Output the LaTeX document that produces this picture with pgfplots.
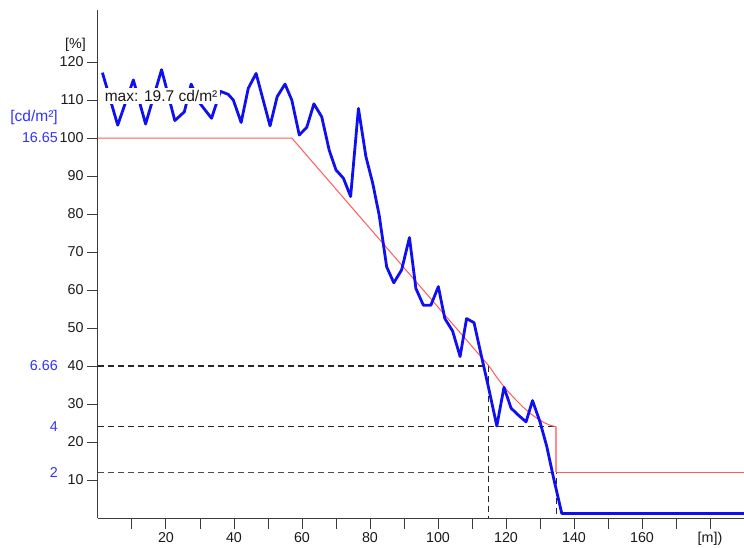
\documentclass[border=0pt]{standalone}
\usepackage{fontspec}
\setmainfont{Liberation Sans}
\usepackage{pgfplots}
\pgfplotsset{compat=1.18}
\definecolor{lineblue}{RGB}{15,15,240}
\definecolor{labelblue}{RGB}{50,50,255}
\definecolor{redline}{RGB}{255,90,90}
\definecolor{axisgray}{RGB}{60,60,60}
\begin{document}
\begin{tikzpicture}
\begin{axis}[name=ax, scale only axis, width=646pt, height=508pt,
  xmin=0, xmax=190, ymin=0, ymax=133.7,
  axis x line*=bottom, axis y line*=left,
  axis line style={axisgray, line width=1pt, -},
  xtick={20,40,...,180}, xticklabels={20,40,60,80,100,120,140,160,{[m])}},
  minor xtick={10,30,...,170},
  ytick={10,20,...,120},
  tick style={axisgray, line width=1pt},
  major tick length=11pt, minor tick length=11pt,
  tick align=outside,
  ticklabel style={font=\fontsize{14.3}{16}\selectfont, text=black!90},
  /pgf/number format/assume math mode=true,
  clip=false]
% dashed guide lines
\addplot[black!85, line width=1.3pt, dash pattern=on 6pt off 4pt] coordinates {(0,40) (114.8,40) (114.8,0)};
\addplot[black!85, line width=1.3pt, dash pattern=on 6pt off 4pt] coordinates {(0,24) (134.8,24) (134.8,0)};
\addplot[black!70, line width=1.3pt, dash pattern=on 6pt off 4pt] coordinates {(0,12) (134.8,12)};
% red reference curve
\addplot[redline, line width=1pt] coordinates {(0,100) (57,100) (115,40) (117,37.4) (119,35) (121,32.9) (123,31) (125,29.2) (127,27.6) (129,26.3) (131,25.2) (133,24.4) (134.8,24)};
\addplot[redline!70, line width=1.8pt] coordinates {(134.8,24) (134.8,12)};
\addplot[redline, line width=1.8pt] coordinates {(134.8,12) (190,12)};
% blue measured curve
\addplot[lineblue, line width=2.8pt, line join=round] coordinates {
(1.3,117.2) (5.8,103.4) (10.4,115.3) (14,103.7) (18.7,118) (22.6,104.6) (25.4,106.9) (27.4,114.2)
(30,109.1) (33.4,105.2) (36,112.3) (38.3,111.5) (39.8,110) (42.1,104.1) (44.2,113.1) (46.5,117)
(50.6,103.2) (52.7,110.9) (55,114.2) (57,110) (59.2,100.8) (61.4,102.8) (63.5,109) (65.8,105.6)
(68,96.8) (70,91.6) (72.2,89.4) (74.3,84.6) (76.6,107.8) (78.8,95.1) (80.8,88.1) (82.7,79.7)
(84.9,66.1) (87,61.9) (89.3,65.3) (91.6,73.8) (93.5,60.4) (95.7,56) (97.9,56) (100.1,60.9)
(102,52.5) (104.3,49.2) (106.5,42.5) (108.4,52.5) (110.6,51.4) (112.8,42.5) (114.8,34.6) (117.3,24.2)
(119.4,34.4) (121.5,28.9) (123.6,27.1) (125.9,25.3) (127.8,30.9) (130,25.3) (132,18.8) (133.9,10.9)
(136.4,1.2) (190,1.2)};
% annotations
\node[anchor=west, fill=white, inner sep=2.5pt, text=black!90, font=\fontsize{15.5}{17}\selectfont] at (axis cs:1.2,111.1) {max: 19.7 cd/m²};
\node[anchor=east, text=black!90, font=\fontsize{14.3}{16}\selectfont, inner sep=0pt] at ([xshift=-12pt]axis cs:0,124.5) {[\%]};
\node[anchor=east, text=labelblue, font=\fontsize{15.5}{16}\selectfont, inner sep=0pt] at ([xshift=-40pt]axis cs:0,105.3) {[cd/m²]};
\node[anchor=east, text=labelblue, font=\fontsize{14.3}{16}\selectfont, inner sep=0pt] at ([xshift=-40pt]axis cs:0,100) {16.65};
\node[anchor=east, text=labelblue, font=\fontsize{14.3}{16}\selectfont, inner sep=0pt] at ([xshift=-40pt]axis cs:0,40) {6.66};
\node[anchor=east, text=labelblue, font=\fontsize{14.3}{16}\selectfont, inner sep=0pt] at ([xshift=-40pt]axis cs:0,24) {4};
\node[anchor=east, text=labelblue, font=\fontsize{14.3}{16}\selectfont, inner sep=0pt] at ([xshift=-40pt]axis cs:0,12) {2};
\end{axis}
\pgfresetboundingbox
\useasboundingbox ([xshift=-98pt,yshift=-29pt]ax.south west) rectangle ([yshift=10pt]ax.north east);
\end{tikzpicture}
\end{document}
